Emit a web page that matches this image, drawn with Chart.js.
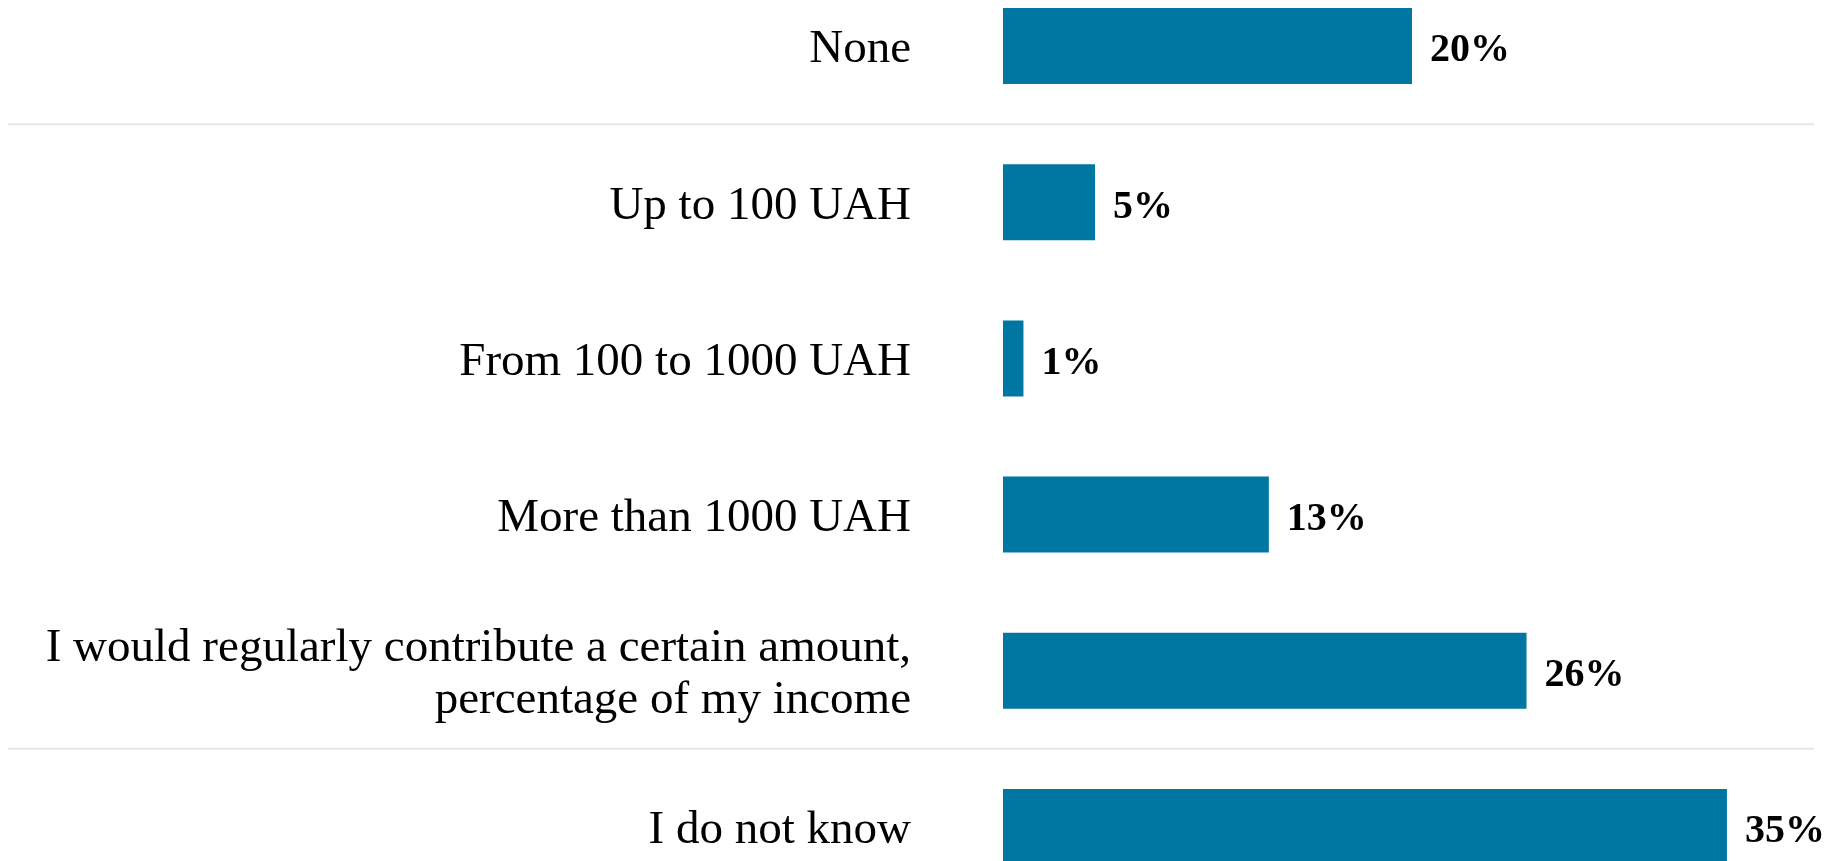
<!DOCTYPE html>
<html>
<head>
<meta charset="utf-8">
<script src="https://cdn.jsdelivr.net/npm/chart.js@4.4.1/dist/chart.umd.min.js"></script>
<style>
  html, body { margin: 0; padding: 0; background: #ffffff; overflow: hidden; width: 1829px; height: 861px; }
  #wrap { position: absolute; left: 0; top: -32px; width: 1829px; height: 937px; }
</style>
</head>
<body>
<div id="wrap"><canvas id="c"></canvas></div>
<script>
const categories = [
  "None",
  "Up to 100 UAH",
  "From 100 to 1000 UAH",
  "More than 1000 UAH",
  ["I would regularly contribute a certain amount,", "percentage of my income"],
  "I do not know"
];
const values = [20.0, 4.5, 1.0, 13.0, 25.6, 35.4];
const separatorsAfter = [0, 4];

const BAR_COLOR = "#0077a3";

const labelPlugin = {
  id: "valueLabels",
  afterDatasetsDraw(chart) {
    const ctx = chart.ctx;
    const meta = chart.getDatasetMeta(0);
    ctx.save();
    ctx.font = "bold 40px 'Liberation Serif', serif";
    ctx.fillStyle = "#000000";
    ctx.textAlign = "left";
    ctx.textBaseline = "middle";
    meta.data.forEach((bar, i) => {
      ctx.fillText(Math.round(values[i]) + "%", bar.x + 18, bar.y + 5);
    });
    ctx.restore();
  }
};

const separatorPlugin = {
  id: "separators",
  beforeDatasetsDraw(chart) {
    const ctx = chart.ctx;
    const y = chart.scales.y;
    ctx.save();
    ctx.strokeStyle = "#e6e6e6";
    ctx.lineWidth = 2;
    separatorsAfter.forEach(i => {
      const py = (y.getPixelForValue(i) + y.getPixelForValue(i + 1)) / 2;
      ctx.beginPath();
      ctx.moveTo(8, py);
      ctx.lineTo(chart.width - 15, py);
      ctx.stroke();
    });
    ctx.restore();
  }
};

new Chart(document.getElementById("c"), {
  type: "bar",
  data: {
    labels: categories,
    datasets: [{
      data: values,
      backgroundColor: BAR_COLOR,
      borderWidth: 0,
      categoryPercentage: 1.0,
      barPercentage: 0.487
    }]
  },
  options: {
    indexAxis: "y",
    responsive: true,
    maintainAspectRatio: false,
    animation: false,
    events: [],
    layout: { padding: { left: 0, right: 8, top: 0, bottom: 0 } },
    plugins: {
      legend: { display: false },
      tooltip: { enabled: false },
      title: { display: false }
    },
    scales: {
      x: {
        display: false,
        min: 0,
        max: 40
      },
      y: {
        afterFit(scale) {
          scale.width = 1003;
          scale.paddingTop = 0;
          scale.paddingBottom = 0;
        },
        grid: { display: false, drawTicks: false },
        border: { display: false },
        ticks: {
          padding: 92,
          labelOffset: 4,
          color: "#000000",
          font: { family: "'Liberation Serif', serif", size: 47, lineHeight: 1.11 }
        }
      }
    }
  },
  plugins: [separatorPlugin, labelPlugin]
});
</script>
</body>
</html>
